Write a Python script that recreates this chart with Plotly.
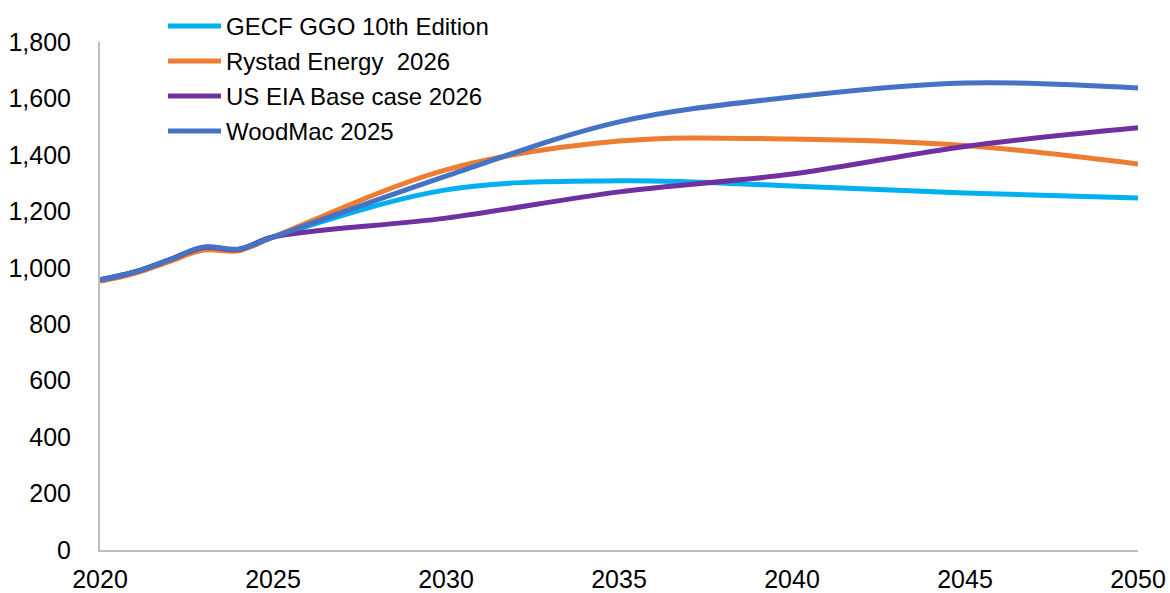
import plotly.graph_objects as go

# Years and projections (bcm)
years = [2020, 2021, 2022, 2023, 2024, 2025, 2030, 2035, 2040, 2045, 2050]

gecf = [957, 985, 1028, 1072, 1065, 1109, 1276, 1308, 1290, 1265, 1247]
rystad = [952, 980, 1022, 1063, 1060, 1109, 1347, 1449, 1456, 1433, 1368]
eia = [957, 985, 1028, 1072, 1065, 1109, 1176, 1269, 1332, 1430, 1496]
woodmac = [957, 985, 1028, 1074, 1066, 1109, 1325, 1517, 1605, 1655, 1637]

names = ["GECF GGO 10th Edition", "Rystad Energy  2026", "US EIA Base case 2026", "WoodMac 2025"]
colors = ["#00B0F0", "#ED7D31", "#7030A0", "#4472C4"]
series = [gecf, rystad, eia, woodmac]

x_ticks = [2020, 2025, 2030, 2035, 2040, 2045, 2050]
y_ticks = [0, 200, 400, 600, 800, 1000, 1200, 1400, 1600, 1800]

FONT = "Liberation Sans, Arial, sans-serif"

fig = go.Figure()
for name, col, vals in zip(names, colors, series):
    fig.add_trace(go.Scatter(
        x=years, y=vals, name=name, mode="lines",
        line=dict(color=col, width=5, shape="spline", smoothing=1.0),
        showlegend=False,
    ))

# Legend drawn as short line samples with labels at the top-left
W, H = 1170, 593
L, R, T, B = 100, 32, 42, 43
pw, ph = W - L - R, H - T - B
def px(xp):
    return (xp - L) / pw
def py(yp):
    return (H - B - yp) / ph

row_y = [26, 61, 96, 131]
for name, col, yy in zip(names, colors, row_y):
    fig.add_shape(type="line", xref="paper", yref="paper",
                  x0=px(168), x1=px(221), y0=py(yy), y1=py(yy),
                  line=dict(color=col, width=5))
    fig.add_annotation(xref="paper", yref="paper", x=px(224), y=py(yy),
                       text=name, showarrow=False, xanchor="left", yanchor="middle",
                       font=dict(family=FONT, size=24, color="#000000"))

fig.update_layout(
    width=W, height=H,
    margin=dict(l=L, r=R, t=T, b=B, autoexpand=False),
    paper_bgcolor="white", plot_bgcolor="white",
    font=dict(family=FONT, size=25, color="#000000"),
)
fig.update_xaxes(
    range=[2020, 2050], tickvals=x_ticks, ticktext=[str(v) for v in x_ticks],
    showgrid=False, zeroline=False, showline=True, linecolor="#BFBFBF", linewidth=2,
    ticks="", ticklabelstandoff=6, automargin=False,
)
fig.update_yaxes(
    range=[0, 1800], tickvals=y_ticks, ticktext=[f"{v:,}" for v in y_ticks],
    showgrid=False, zeroline=False, showline=True, linecolor="#BFBFBF", linewidth=2,
    ticks="", ticklabelstandoff=22, automargin=False,
)

fig.write_html("out.html")
